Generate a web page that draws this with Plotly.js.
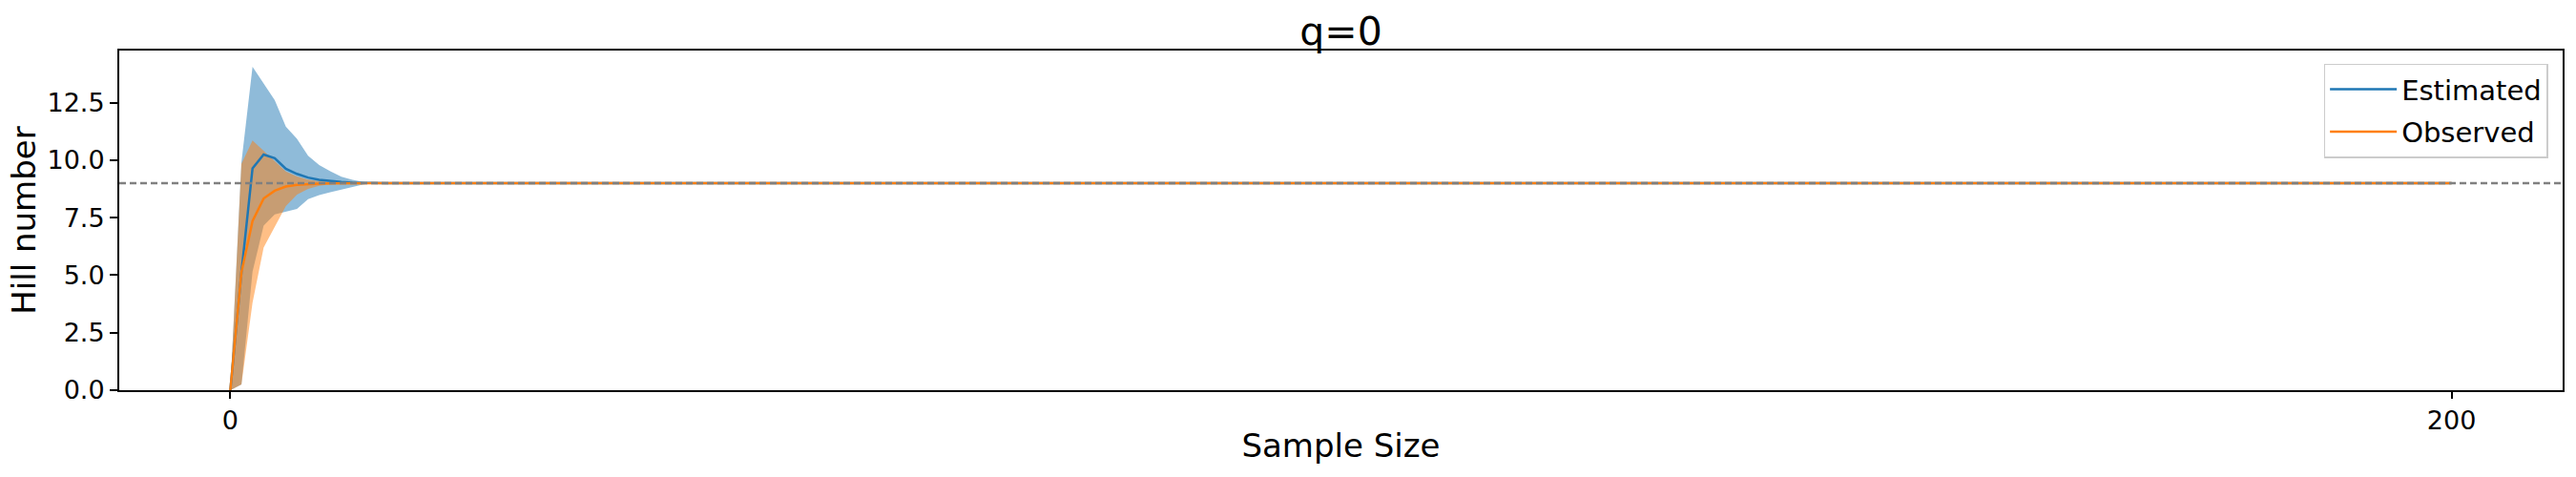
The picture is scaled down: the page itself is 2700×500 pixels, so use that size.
<!DOCTYPE html>
<html>
<head>
<meta charset="utf-8">
<script src="https://cdn.plot.ly/plotly-3.0.1.min.js"></script>
<style>html,body{margin:0;padding:0;background:#fff}#chart{width:2700px;height:500px}</style>
</head>
<body>
<div id="chart"></div>
<script>
// Sample sizes (x)
const sampleSize = [0, 1, 2, 3, 4, 5, 6, 7, 8, 9, 10, 11, 12, 13, 14, 200];
// Estimated Hill number and its interval
const estimated = [0, 5.12, 9.64, 10.24, 10.08, 9.62, 9.4, 9.24, 9.14, 9.08, 9.05, 9.02, 9.01, 9.0, 9.0, 9.0];
const estUpper  = [0, 9.9, 14.05, 13.3, 12.6, 11.45, 10.92, 10.19, 9.78, 9.52, 9.28, 9.14, 9.05, 9.0, 9.0, 9.0];
const estLower  = [0, 0.25, 5.15, 7.15, 7.64, 7.77, 7.88, 8.3, 8.48, 8.6, 8.72, 8.85, 8.95, 9.0, 9.0, 9.0];
// Observed Hill number and its interval
const observed = [0, 5.12, 7.35, 8.33, 8.67, 8.85, 8.92, 8.96, 8.98, 8.99, 9.0, 9.0, 9.0, 9.0, 9.0, 9.0];
const obsUpper = [0, 9.84, 10.85, 10.4, 9.91, 9.5, 9.29, 9.15, 9.08, 9.04, 9.02, 9.01, 9.0, 9.0, 9.0, 9.0];
const obsLower = [0, 0.25, 3.8, 6.2, 7.1, 8.0, 8.5, 8.75, 8.88, 8.95, 8.98, 9.0, 9.0, 9.0, 9.0, 9.0];
// Reference (asymptote) level
const asymptote = 9;
const xTicks = [0, 200];
const yTicks = [0, 2.5, 5, 7.5, 10, 12.5];

const BLUE = '#1f77b4', ORANGE = '#ff7f0e';
const FONT = 'DejaVu Sans, sans-serif';

const traces = [
  {x: sampleSize, y: estUpper, mode: 'lines', line: {width: 0, color: BLUE}, showlegend: false, hoverinfo: 'skip', legendgroup: 'a'},
  {x: sampleSize, y: estLower, mode: 'lines', line: {width: 0, color: BLUE}, fill: 'tonexty', fillcolor: 'rgba(31,119,180,0.5)', showlegend: false, hoverinfo: 'skip', legendgroup: 'a'},
  {x: sampleSize, y: obsUpper, mode: 'lines', line: {width: 0, color: ORANGE}, showlegend: false, hoverinfo: 'skip', legendgroup: 'b'},
  {x: sampleSize, y: obsLower, mode: 'lines', line: {width: 0, color: ORANGE}, fill: 'tonexty', fillcolor: 'rgba(255,127,14,0.5)', showlegend: false, hoverinfo: 'skip', legendgroup: 'b'},
  {x: sampleSize, y: estimated, mode: 'lines', name: 'Estimated', line: {width: 2.5, color: BLUE}, legendgroup: 'a'},
  {x: sampleSize, y: observed, mode: 'lines', name: 'Observed', line: {width: 2.5, color: ORANGE}, legendgroup: 'b'}
];

const layout = {
  width: 2700, height: 500,
  margin: {l: 125, r: 14, t: 53, b: 91},
  paper_bgcolor: '#fff', plot_bgcolor: '#fff',
  font: {family: FONT, color: '#000', size: 27},
  title: {text: 'q=0', font: {family: FONT, size: 41, color: '#000'}, x: 0.5, xanchor: 'center', xref: 'paper', yref: 'paper', y: 1, yanchor: 'bottom', pad: {b: 6}},
  xaxis: {
    range: [-10, 210], tickvals: xTicks, ticktext: xTicks.map(String),
    showgrid: false, zeroline: false, showline: true, mirror: true, linecolor: '#000', linewidth: 2,
    ticks: 'outside', ticklen: 7, tickwidth: 2, tickcolor: '#000',
    tickfont: {family: FONT, size: 27, color: '#000'},
    title: {text: 'Sample Size', font: {family: FONT, size: 34, color: '#000'}, standoff: 0}
  },
  yaxis: {
    range: [0, 14.76], tickvals: yTicks, ticktext: yTicks.map(v => v.toFixed(1)),
    showgrid: false, zeroline: false, showline: true, mirror: true, linecolor: '#000', linewidth: 2,
    ticks: 'outside', ticklen: 8, tickwidth: 2, tickcolor: '#000',
    tickfont: {family: FONT, size: 27, color: '#000'},
    title: {text: 'Hill number', font: {family: FONT, size: 34, color: '#000'}, standoff: 2}
  },
  shapes: [{
    type: 'line', xref: 'paper', x0: 0, x1: 1, yref: 'y', y0: asymptote, y1: asymptote,
    line: {color: '#808080', width: 2.5, dash: '7px,4px'}, layer: 'above'
  }],
  legend: {
    x: 0.994, xanchor: 'right', y: 0.962, yanchor: 'top',
    bgcolor: 'rgba(255,255,255,0.8)', bordercolor: '#cccccc', borderwidth: 1.5,
    font: {family: FONT, size: 29, color: '#000'}, itemwidth: 70,
    traceorder: 'grouped', tracegroupgap: 4
  },
  showlegend: true
};

Plotly.newPlot('chart', traces, layout, {staticPlot: true, displayModeBar: false});
</script>
</body>
</html>
